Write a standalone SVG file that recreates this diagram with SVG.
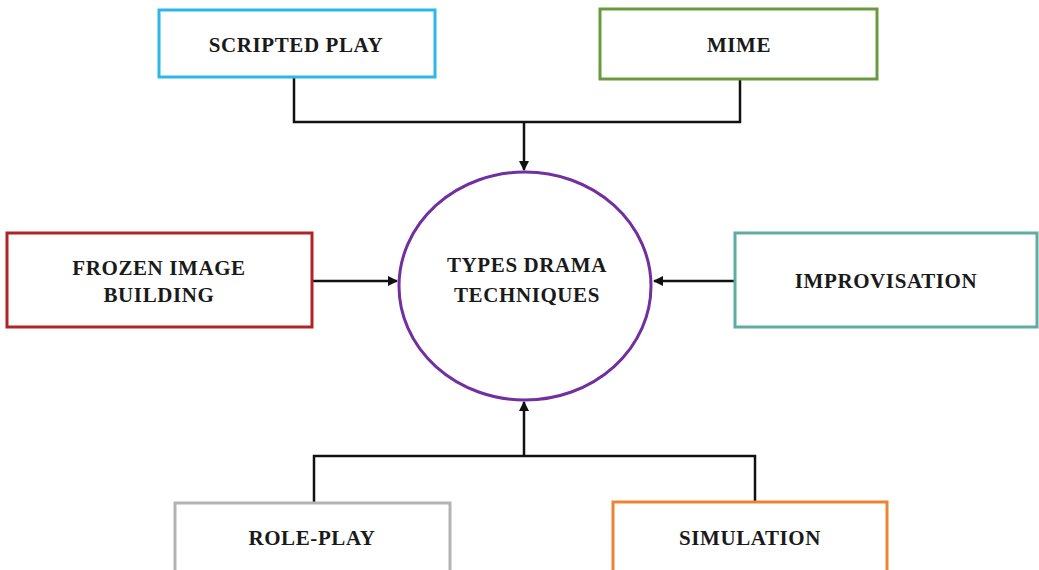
<svg xmlns="http://www.w3.org/2000/svg" width="1039" height="570" viewBox="0 0 1039 570">
  <style>
    .box { fill: #ffffff; stroke-width: 3; }
    .label { font-family: "Liberation Serif", "DejaVu Serif", serif; font-weight: bold; font-size: 21px; fill: #1a1a1a; text-anchor: middle; letter-spacing: 0.6px; }
    .wire { fill: none; stroke: #111111; stroke-width: 2.5; }
  </style>
  <defs>
    <marker id="arrow" viewBox="0 0 10 10" refX="9" refY="5" markerWidth="4" markerHeight="4" orient="auto" markerUnits="strokeWidth">
      <path d="M0,0 L10,5 L0,10 z" fill="#111111"/>
    </marker>
  </defs>
  <rect width="1039" height="570" fill="#ffffff"/>

  <g id="connectors">
    <!-- top branch -->
    <path class="wire" d="M294,77 V122 H740 V80"/>
    <path class="wire" d="M524,122 V170" marker-end="url(#arrow)"/>
    <!-- side arrows -->
    <path class="wire" d="M312,281 H397" marker-end="url(#arrow)"/>
    <path class="wire" d="M735,281 H654" marker-end="url(#arrow)"/>
    <!-- bottom branch -->
    <path class="wire" d="M314,503 V456 H755 V502"/>
    <path class="wire" d="M524,456 V402" marker-end="url(#arrow)"/>
  </g>

  <g id="scripted-play">
    <rect class="box" x="159" y="10" width="276" height="67" stroke="#2db7e6"/>
    <text class="label" x="296" y="52">SCRIPTED PLAY</text>
  </g>
  <g id="mime">
    <rect class="box" x="600" y="9" width="277" height="70" stroke="#6a9a3e"/>
    <text class="label" x="739" y="52">MIME</text>
  </g>
  <g id="frozen-image">
    <rect class="box" x="7" y="233" width="305" height="94" stroke="#b22323"/>
    <text class="label" x="159" y="275">FROZEN IMAGE</text>
    <text class="label" x="159" y="302">BUILDING</text>
  </g>
  <g id="improvisation">
    <rect class="box" x="735" y="233" width="302" height="94" stroke="#5fada0"/>
    <text class="label" x="886" y="288">IMPROVISATION</text>
  </g>
  <g id="center">
    <ellipse cx="525" cy="286" rx="126" ry="114" fill="#ffffff" stroke="#7030a0" stroke-width="3"/>
    <text class="label" x="527" y="272">TYPES DRAMA</text>
    <text class="label" x="527" y="302">TECHNIQUES</text>
  </g>
  <g id="role-play">
    <rect class="box" x="175" y="503" width="275" height="80" stroke="#b3b3b3"/>
    <text class="label" x="312" y="545">ROLE-PLAY</text>
  </g>
  <g id="simulation">
    <rect class="box" x="613" y="502" width="274" height="80" stroke="#ec8434"/>
    <text class="label" x="750" y="545">SIMULATION</text>
  </g>
</svg>
